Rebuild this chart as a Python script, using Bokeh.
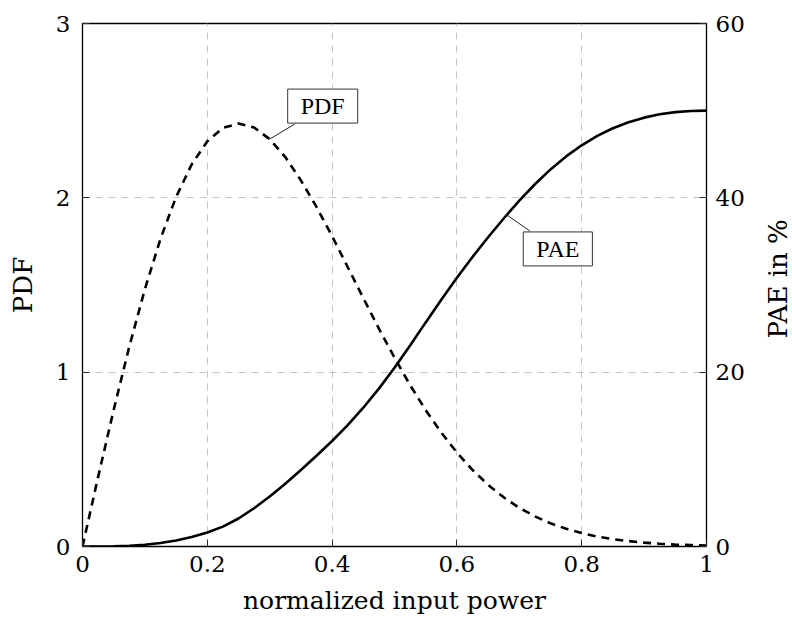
import numpy as np
from bokeh.plotting import figure
from bokeh.models import Range1d, LinearAxis, Label, FixedTicker
from bokeh.embed import file_html
from bokeh.resources import INLINE

# Normalized input power samples
x_power = [0.000, 0.025, 0.050, 0.075, 0.100, 0.125, 0.150, 0.175, 0.200, 0.225,
           0.250, 0.275, 0.300, 0.325, 0.350, 0.375, 0.400, 0.425, 0.450, 0.475,
           0.500, 0.525, 0.550, 0.575, 0.600, 0.625, 0.650, 0.675, 0.700, 0.725,
           0.750, 0.775, 0.800, 0.825, 0.850, 0.875, 0.900, 0.925, 0.950, 0.975,
           1.000]

# Probability density of the input power
pdf_values = [0.000, 0.398, 0.784, 1.147, 1.477, 1.765, 2.005, 2.192, 2.324, 2.401,
              2.426, 2.403, 2.337, 2.234, 2.100, 1.948, 1.780, 1.603, 1.425, 1.250,
              1.083, 0.926, 0.782, 0.653, 0.539, 0.439, 0.354, 0.282, 0.222, 0.173,
              0.133, 0.102, 0.077, 0.057, 0.042, 0.031, 0.022, 0.016, 0.011, 0.008,
              0.005]

# Power added efficiency in percent
pae_values = [0.000, 0.003, 0.03, 0.09, 0.20, 0.40, 0.68, 1.08, 1.60, 2.28,
              3.21, 4.39, 5.74, 7.21, 8.78, 10.41, 12.10, 13.93, 15.92, 18.11,
              20.51, 23.07, 25.71, 28.32, 30.83, 33.22, 35.48, 37.63, 39.67, 41.56,
              43.26, 44.75, 46.03, 47.10, 47.98, 48.67, 49.20, 49.58, 49.83, 49.96,
              50.00]

x_ticks = [0.0, 0.2, 0.4, 0.6, 0.8, 1.0]
x_tick_labels = ["0", "0.2", "0.4", "0.6", "0.8", "1"]
pdf_ticks = [0, 1, 2, 3]
pae_ticks = [0, 20, 40, 60]

AXIS_FONT = "DejaVu Serif"
LABEL_FONT = "Liberation Serif"
FRAME_W, FRAME_H = 624, 523
X_MAX, PDF_MAX, PAE_MAX = 1.0, 3.0, 60.0

p = figure(frame_width=FRAME_W, frame_height=FRAME_H,
           x_range=Range1d(0, X_MAX), y_range=Range1d(0, PDF_MAX),
           min_border_left=82, min_border_right=86,
           min_border_top=23, min_border_bottom=73,
           output_backend="svg", toolbar_location=None,
           background_fill_color="white", border_fill_color="white")
p.extra_y_ranges = {"pae": Range1d(0, PAE_MAX)}

p.outline_line_color = "black"
p.outline_line_width = 1.3

# Grid
for g in (p.xgrid, p.ygrid):
    g.grid_line_color = "#c4c4c4"
    g.grid_line_dash = "7 6"
    g.grid_line_width = 1

def style_axis(ax, font_px_ticks=23, font_px_label=25):
    ax.axis_line_color = None
    ax.major_tick_in = 7
    ax.major_tick_out = 0
    ax.major_tick_line_color = "#303030"
    ax.major_tick_line_width = 1
    ax.minor_tick_line_color = None
    ax.major_label_text_font = AXIS_FONT
    ax.major_label_text_font_style = "normal"
    ax.major_label_text_font_size = f"{font_px_ticks}px"
    ax.major_label_text_color = "black"
    ax.axis_label_text_font = AXIS_FONT
    ax.axis_label_text_font_size = f"{font_px_label}px"
    ax.axis_label_text_font_style = "normal"
    ax.axis_label_text_color = "black"

# Bottom axis
xa = p.xaxis[0]
xa.ticker = FixedTicker(ticks=x_ticks)
xa.major_label_overrides = {t: s for t, s in zip(x_ticks, x_tick_labels)}
xa.axis_label = "normalized input power"
style_axis(xa)
xa.major_label_standoff = 9
xa.axis_label_standoff = 11

# Left axis
ya = p.yaxis[0]
ya.ticker = FixedTicker(ticks=pdf_ticks)
ya.axis_label = "PDF"
style_axis(ya, font_px_label=26)
ya.major_label_standoff = 12
ya.axis_label_standoff = 15

# Right axis for efficiency, title reading bottom to top
pae_title = "PAE in %"
ra = LinearAxis(y_range_name="pae", ticker=FixedTicker(ticks=pae_ticks))
style_axis(ra, font_px_label=26)
ra.major_label_standoff = 9
ra.axis_label_standoff = 30
ra.axis_label_orientation = np.pi / 2
if hasattr(ra, "axis_label_align"):
    # title starts at the bottom of the axis; em spaces lift it to mid-height
    ra.axis_label_align = "start"
    pae_title = "\u2003" * 8 + pae_title
ra.axis_label = pae_title
p.add_layout(ra, "right")

# Curves
p.line(x_power, pdf_values, line_color="black", line_width=2.6, line_dash="8 6")
p.line(x_power, pae_values, line_color="black", line_width=2.6, y_range_name="pae")

# Pin annotations: small connector from curve point to a boxed label
px_per_x = FRAME_W / X_MAX
px_per_pdf = FRAME_H / PDF_MAX
px_per_pae = FRAME_H / PAE_MAX

def pin(x0, y0, per_y, y_range, text, dx_line, dy_line, dx_box, dy_box):
    x1 = x0 + dx_line / px_per_x
    y1 = y0 + dy_line / per_y
    kw = {} if y_range is None else {"y_range_name": y_range}
    p.line([x0, x1], [y0, y1], line_color="#222222", line_width=1, **kw)
    lab = Label(x=x0, y=y0, x_offset=dx_box, y_offset=dy_box, text=text,
                text_font=LABEL_FONT, text_font_size="24px", text_color="black",
                text_align="center", text_baseline="middle",
                background_fill_color="white", border_line_color="#333333",
                border_line_width=1, padding=(13, 4), **kw)
    p.add_layout(lab)

pdf_pin_x = 0.3
pin(pdf_pin_x, float(np.interp(pdf_pin_x, x_power, pdf_values)), px_per_pdf, None,
    "PDF", 25, 15, 53, 33)

pae_pin_x = 0.68
pin(pae_pin_x, float(np.interp(pae_pin_x, x_power, pae_values)), px_per_pae, "pae",
    "PAE", 23, -16, 51, -34)

open("out.html", "w").write(file_html(p, INLINE))
